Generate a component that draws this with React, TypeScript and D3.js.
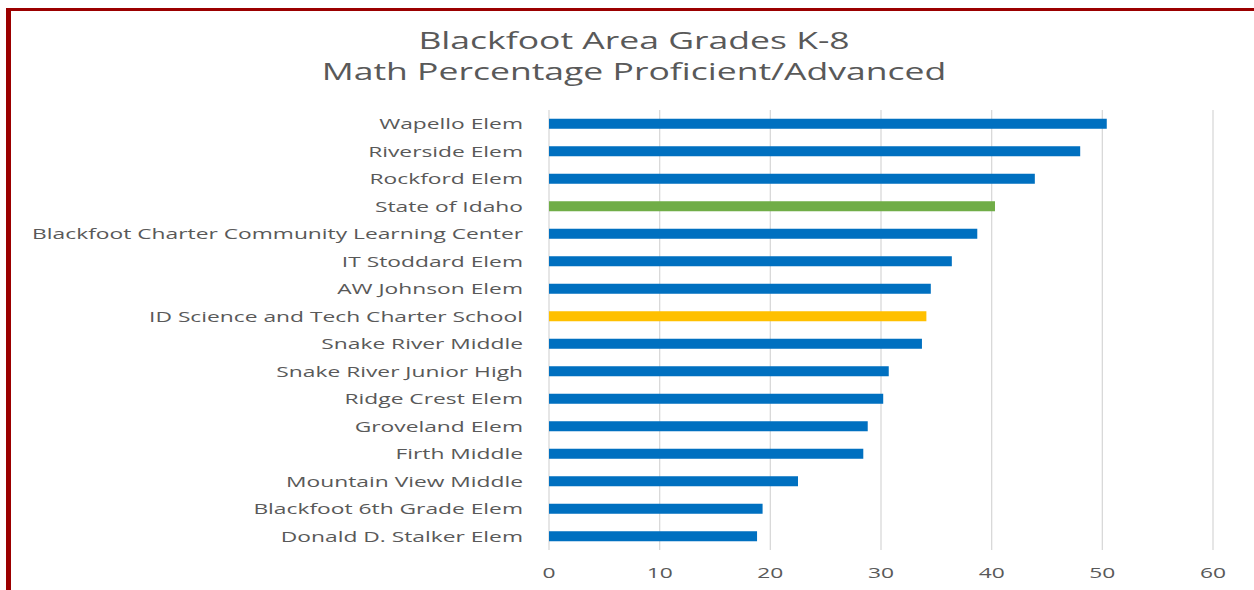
import React from "react";
import * as d3 from "d3";

const categories = [
  "Wapello Elem",
  "Riverside Elem",
  "Rockford Elem",
  "State of Idaho",
  "Blackfoot Charter Community Learning Center",
  "IT Stoddard Elem",
  "AW Johnson Elem",
  "ID Science and Tech Charter School",
  "Snake River Middle",
  "Snake River Junior High",
  "Ridge Crest Elem",
  "Groveland Elem",
  "Firth Middle",
  "Mountain View Middle",
  "Blackfoot 6th Grade Elem",
  "Donald D. Stalker Elem",
];
const values = [50.4, 48.0, 43.9, 40.3, 38.7, 36.4, 34.5, 34.1, 33.7, 30.7, 30.2, 28.8, 28.4, 22.5, 19.3, 18.8];
const highlight: Record<string, string> = {
  "State of Idaho": "#70AD47",
  "ID Science and Tech Charter School": "#FFC000",
};
const xTicks = [0, 10, 20, 30, 40, 50, 60];
const titleLines = ["Blackfoot Area Grades K-8", "Math Percentage Proficient/Advanced"];

const W = 1254;
const H = 590;
const FONT = "'Open Sans', sans-serif";
const TXT = "#595959";
const SX_LBL = 1.52;
const SX_TTL = 1.545;

export default function App() {
  const x = d3.scaleLinear().domain([0, 60]).range([549, 1213]);
  const y = d3.scaleBand<string>().domain(categories).range([110, 550]).paddingInner(0.636).paddingOuter(0.318);
  return (
    <svg width={W} height={H} style={{ position: "absolute", left: 0, top: 0, background: "#fff" }}>
      <rect x={0} y={0} width={W} height={H} fill="#fff" />
      <rect x={6} y={8} width={W} height={3} fill="#9B0000" />
      <rect x={6} y={8} width={5} height={H} fill="#9B0000" />
      {titleLines.map((t, i) => (
        <text
          key={t}
          transform={`translate(634, ${49 + i * 31}) scale(${SX_TTL},1)`}
          textAnchor="middle"
          fontFamily={FONT}
          fontSize={23}
          fill={TXT}
        >
          {t}
        </text>
      ))}
      {xTicks.map((t) => (
        <line key={t} x1={x(t)} x2={x(t)} y1={110} y2={550} stroke="#D9D9D9" strokeWidth={1.3} />
      ))}
      {categories.map((c, i) => (
        <rect
          key={c}
          x={x(0)}
          y={y(c)}
          width={x(values[i]) - x(0)}
          height={y.bandwidth()}
          fill={highlight[c] || "#0070C0"}
        />
      ))}
      {categories.map((c) => (
        <text
          key={c}
          transform={`translate(523, ${(y(c) as number) + y.bandwidth() / 2 + 5.5}) scale(${SX_LBL},1)`}
          textAnchor="end"
          fontFamily={FONT}
          fontSize={15}
          fill={TXT}
        >
          {c}
        </text>
      ))}
      {xTicks.map((t) => (
        <text
          key={t}
          transform={`translate(${x(t)}, 578) scale(${SX_LBL},1)`}
          textAnchor="middle"
          fontFamily={FONT}
          fontSize={15}
          fill={TXT}
        >
          {t}
        </text>
      ))}
    </svg>
  );
}
